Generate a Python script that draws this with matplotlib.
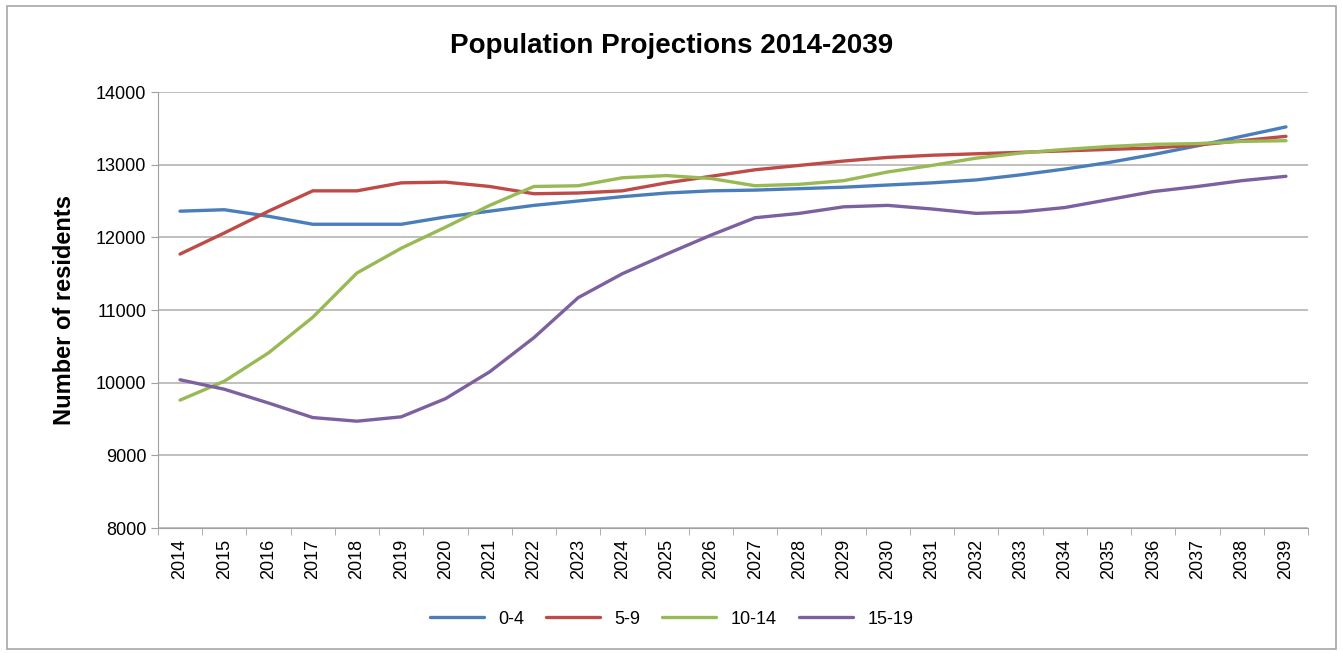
import matplotlib
matplotlib.use("Agg")
import matplotlib.pyplot as plt
import numpy as np

years = [str(y) for y in range(2014, 2040)]

age_0_4 = [12360, 12380, 12290, 12180, 12180, 12180, 12280, 12360, 12440, 12500,
           12560, 12610, 12640, 12650, 12670, 12690, 12720, 12750, 12790, 12860,
           12940, 13030, 13140, 13260, 13390, 13520]
age_5_9 = [11770, 12060, 12360, 12640, 12640, 12750, 12760, 12700, 12600, 12610,
           12640, 12750, 12840, 12930, 12990, 13050, 13100, 13130, 13150, 13170,
           13190, 13210, 13230, 13270, 13330, 13390]
age_10_14 = [9760, 10020, 10410, 10900, 11510, 11850, 12140, 12440, 12700, 12710,
             12820, 12850, 12810, 12710, 12730, 12780, 12900, 12990, 13090, 13160,
             13210, 13250, 13280, 13290, 13320, 13330]
age_15_19 = [10040, 9910, 9720, 9520, 9470, 9530, 9780, 10150, 10620, 11170,
             11500, 11770, 12030, 12270, 12330, 12420, 12440, 12390, 12330, 12350,
             12410, 12520, 12630, 12700, 12780, 12840]

series = [("0-4", age_0_4, "#4a7ebb"),
          ("5-9", age_5_9, "#be4b48"),
          ("10-14", age_10_14, "#98b954"),
          ("15-19", age_15_19, "#7d60a0")]

plt.rcParams['font.family'] = ['Liberation Sans', 'DejaVu Sans']

fig = plt.figure(figsize=(13.43, 6.53), dpi=100)
ax = fig.add_axes([0.1176, 0.1914, 0.8564, 0.6677])

x = np.arange(len(years))
for name, vals, col in series:
    ax.plot(x, vals, color=col, linewidth=2.4, label=name, solid_capstyle='round')

ax.set_xlim(-0.5, len(years) - 0.5)
ax.set_ylim(8000, 14000)
ax.set_yticks(range(8000, 14001, 1000))
ax.set_xticks(x)
ax.set_xticklabels(years, rotation=90, fontsize=13)
ax.tick_params(axis='y', labelsize=13, length=5, color='#a0a0a0')
ax.tick_params(axis='x', length=0, pad=8)
ax.set_xticks(np.arange(-0.5, len(years), 1), minor=True)
ax.tick_params(axis='x', which='minor', length=5, color='#a0a0a0')
ax.grid(axis='y', color='#b4b4b4', linewidth=1.2)
ax.set_axisbelow(True)
for s in ['top', 'right']:
    ax.spines[s].set_visible(False)
for s in ['left', 'bottom']:
    ax.spines[s].set_color('#a0a0a0')

ax.set_ylabel("Number of residents", fontsize=17, fontweight='bold', labelpad=14)
fig.text(0.5, 0.93, "Population Projections 2014-2039", ha='center', va='center',
         fontsize=20, fontweight='bold')

fig.legend(loc='center', bbox_to_anchor=(0.5, 0.052), ncol=4, frameon=False,
           fontsize=13, handlelength=3, columnspacing=1.2)

# outer chart border
fig.patches.append(plt.Rectangle((0.005, 0.006), 0.99, 0.985, transform=fig.transFigure,
                                 fill=False, edgecolor='#a6a6a6', linewidth=1.2))

fig.savefig("out.png", dpi=100)
